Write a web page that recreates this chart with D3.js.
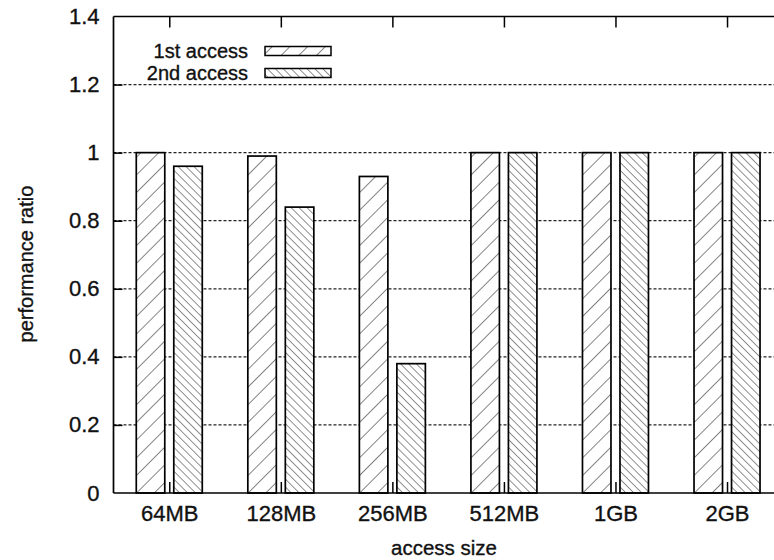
<!DOCTYPE html>
<html>
<head>
<meta charset="utf-8">
<script src="https://cdn.jsdelivr.net/npm/d3@7/dist/d3.min.js"></script>
<style>
  html, body { margin: 0; padding: 0; background: #fff; }
  svg { display: block; }
  text { font-family: "Liberation Sans", Arial, Helvetica, sans-serif; fill: #111; stroke: #111; stroke-width: 0.35px; }
</style>
</head>
<body>
<svg id="chart" width="774" height="560"></svg>
<script>
// Access sizes along the x axis
const categories = ["64MB", "128MB", "256MB", "512MB", "1GB", "2GB"];
// Series names
const seriesNames = ["1st access", "2nd access"];
// Performance ratio per access size
const firstAccess = [1.0, 0.99, 0.93, 1.0, 1.0, 1.0];
const secondAccess = [0.96, 0.84, 0.38, 1.0, 1.0, 1.0];
// Y axis ticks
const yTicks = [0, 0.2, 0.4, 0.6, 0.8, 1, 1.2, 1.4];

const seriesValues = [firstAccess, secondAccess];

const svg = d3.select("#chart");
const W = 774, H = 560;
const plotLeft = 113.5, plotTop = 16.5, plotBottom = 493;
const plotRight = 782.8;

const x = d3.scaleBand().domain(categories).range([plotLeft, plotRight]).padding(0);
const xSub = d3.scaleBand().domain(seriesNames).range([-33, 33]).paddingInner(0.24).paddingOuter(0);
const y = d3.scaleLinear().domain([0, 1.4]).range([plotBottom, plotTop]);

// Hatch patterns: white ground with diagonal strokes
const defs = svg.append("defs");
function hatch(id, spacing, angle, width) {
  const p = defs.append("pattern")
    .attr("id", id)
    .attr("patternUnits", "userSpaceOnUse")
    .attr("width", spacing)
    .attr("height", spacing)
    .attr("patternTransform", `rotate(${angle})`);
  p.append("rect").attr("width", spacing).attr("height", spacing).attr("fill", "#fff");
  p.append("line")
    .attr("x1", 0).attr("y1", 0).attr("x2", 0).attr("y2", spacing)
    .attr("stroke", "#222").attr("stroke-width", width);
}
hatch("hatchA", 12.5, 45, 1.1);   // "/" sparse
hatch("hatchB", 5.6, -45, 1.0);   // "\" dense
const fills = ["url(#hatchA)", "url(#hatchB)"];

// Grid lines
svg.append("g")
  .selectAll("line")
  .data(yTicks.filter(t => t > 0 && t < 1.4))
  .join("line")
  .attr("x1", plotLeft).attr("x2", W)
  .attr("y1", d => y(d)).attr("y2", d => y(d))
  .attr("stroke", "#222")
  .attr("stroke-width", 1.2)
  .attr("stroke-dasharray", "3,2");

// Bars
const groups = svg.append("g")
  .selectAll("g")
  .data(categories)
  .join("g")
  .attr("transform", d => `translate(${x(d) + x.bandwidth() / 2},0)`);

groups.selectAll("rect")
  .data((d, i) => seriesNames.map((s, k) => ({ s, k, v: seriesValues[k][i] })))
  .join("rect")
  .attr("x", d => xSub(d.s))
  .attr("width", xSub.bandwidth())
  .attr("y", d => y(d.v))
  .attr("height", d => y(0) - y(d.v))
  .attr("fill", d => fills[d.k])
  .attr("stroke", "#000")
  .attr("stroke-width", 1.7);

// Axes
const fontSize = "22px";
const xCenters = d3.scaleOrdinal().domain(categories).range(categories.map(c => x(c) + x.bandwidth() / 2));

const yAxis = svg.append("g")
  .attr("transform", `translate(${plotLeft},0)`)
  .call(d3.axisLeft(y).tickValues(yTicks).tickFormat(d3.format("~g")).tickSizeInner(-9).tickSizeOuter(0).tickPadding(14));

const xAxis = svg.append("g")
  .attr("transform", `translate(0,${plotBottom})`)
  .call(d3.axisBottom(xCenters).tickSizeInner(-11).tickSizeOuter(0).tickPadding(12));

const xTop = svg.append("g")
  .attr("transform", `translate(0,${plotTop})`)
  .call(d3.axisTop(xCenters).tickSizeInner(-11).tickSizeOuter(0).tickFormat(""));

[yAxis, xAxis, xTop].forEach(g => {
  g.selectAll("path.domain").attr("stroke", "#000").attr("stroke-width", 1.7);
  g.selectAll(".tick line").attr("stroke", "#000").attr("stroke-width", 1.5);
  g.selectAll("text").style("font-size", fontSize).attr("fill", "#111")
    .style("font-family", "'Liberation Sans', Arial, sans-serif");
});
// Extend domain lines to the window edge
xAxis.select("path.domain").attr("d", `M${plotLeft},0H${W}`);
xTop.select("path.domain").attr("d", `M${plotLeft},0H${W}`);
yAxis.select("path.domain").attr("d", `M0,${plotBottom}V${plotTop}`);
yAxis.selectAll(".tick").filter(d => d === 0 || d === 1.4).select("line").remove();

// Axis titles
svg.append("text")
  .attr("x", 444).attr("y", 555)
  .attr("text-anchor", "middle")
  .style("font-size", "20.5px")
  .text("access size");

svg.append("text")
  .attr("transform", "translate(33,264) rotate(-90)")
  .attr("text-anchor", "middle")
  .style("font-size", "20px")
  .text("performance ratio");

// Legend
const legend = svg.append("g");
seriesNames.forEach((name, k) => {
  const cy = 51 + k * 22;
  legend.append("text")
    .attr("x", 248).attr("y", cy + 7)
    .attr("text-anchor", "end")
    .style("font-size", "20px")
    .text(name);
  legend.append("rect")
    .attr("x", 265).attr("y", cy - 4.5)
    .attr("width", 66).attr("height", 9)
    .attr("fill", fills[k])
    .attr("stroke", "#000")
    .attr("stroke-width", 1.5);
});
</script>
</body>
</html>
